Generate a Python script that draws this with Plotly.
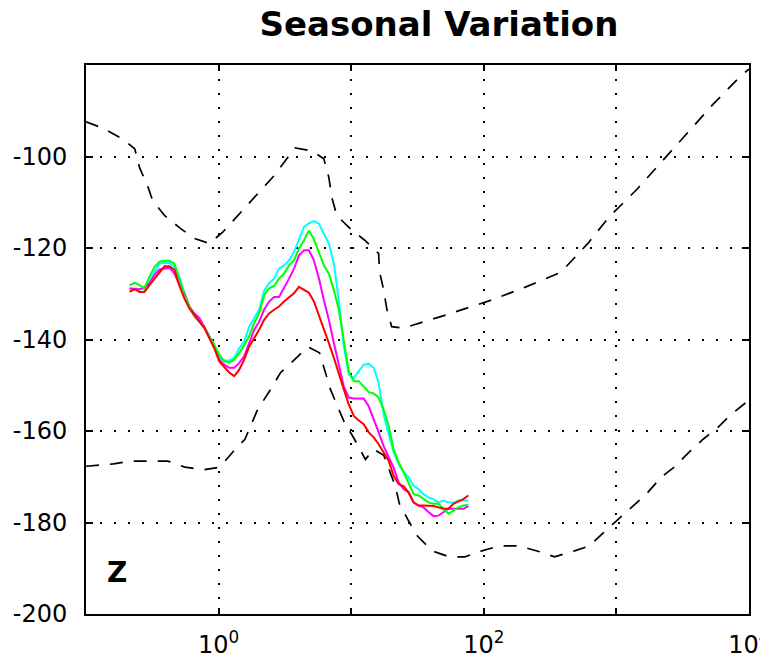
import plotly.graph_objects as go

# Period (s) shared by the four seasonal spectra
period = [0.213, 0.233, 0.254, 0.276, 0.301, 0.329, 0.358, 0.391, 0.426, 0.465,
          0.507, 0.552, 0.602, 0.657, 0.716, 0.781, 0.851, 0.928, 1.012, 1.104,
          1.203, 1.312, 1.431, 1.560, 1.701, 1.855, 2.022, 2.205, 2.404, 2.621,
          2.858, 3.116, 3.398, 3.705, 4.040, 4.405, 4.803, 5.236, 5.710, 6.225,
          6.788, 7.401, 8.070, 8.800, 9.594, 10.46, 11.41, 12.44, 13.56, 14.79,
          16.12, 17.58, 19.17, 20.90, 22.79, 24.85, 27.09, 29.54, 32.21, 35.12,
          38.30, 41.75, 45.52, 49.64, 54.12, 59.02, 64.35, 70.16, 76.50]

red_db = [-129.6, -129.0, -129.6, -129.6, -128.1, -126.7, -125.2, -124.0, -124.0, -124.8,
          -128.3, -131.0, -133.2, -134.8, -136.1, -137.5, -139.7, -141.9, -144.8, -145.9,
          -147.2, -148.0, -146.6, -144.4, -141.5, -139.7, -137.9, -135.7, -134.3, -133.5,
          -132.8, -131.7, -130.7, -129.9, -128.5, -129.2, -129.8, -131.7, -134.6, -137.9,
          -140.8, -144.0, -147.7, -150.9, -154.2, -156.7, -157.7, -158.5, -160.3, -161.4,
          -162.9, -164.7, -166.5, -169.8, -171.6, -172.1, -173.4, -175.6, -176.3, -176.3,
          -176.3, -176.4, -176.7, -177.0, -177.0, -175.9, -175.4, -174.9, -174.1]

magenta_db = [-128.8, -129.0, -129.0, -128.6, -127.7, -125.9, -124.7, -124.5, -124.3, -125.6,
              -128.1, -129.9, -132.8, -134.3, -135.3, -137.2, -139.3, -141.5, -144.4, -145.5,
              -146.2, -146.2, -145.1, -143.7, -140.8, -137.9, -136.1, -133.5, -131.7, -130.7,
              -130.7, -128.8, -126.7, -124.5, -121.6, -120.5, -120.5, -122.7, -126.6, -131.4,
              -135.7, -140.7, -145.9, -150.3, -152.7, -152.9, -152.9, -152.9, -154.6, -157.7,
              -160.3, -163.3, -165.8, -168.0, -171.2, -172.7, -173.4, -175.6, -176.3, -176.7,
              -177.7, -178.6, -178.5, -177.7, -177.0, -177.0, -177.0, -177.0, -176.4]

green_db = [-128.1, -127.6, -128.1, -128.8, -126.3, -124.1, -123.0, -122.8, -122.8, -123.4,
            -127.0, -130.3, -132.8, -135.0, -136.1, -137.5, -139.3, -141.2, -143.3, -144.8,
            -145.0, -144.4, -143.0, -141.2, -139.3, -136.4, -134.3, -130.3, -128.8, -128.3,
            -126.7, -125.6, -123.8, -122.7, -120.1, -118.3, -116.2, -118.1, -120.9, -123.8,
            -125.6, -129.2, -133.5, -140.1, -147.0, -149.1, -149.1, -150.3, -151.5, -151.8,
            -152.7, -155.3, -158.9, -164.0, -166.8, -169.0, -171.6, -173.8, -174.1, -174.9,
            -175.6, -175.9, -175.9, -177.0, -178.1, -177.4, -176.7, -176.3, -176.2]

cyan_db = [-129.0, -128.8, -129.0, -129.0, -127.4, -125.2, -123.4, -123.3, -123.3, -124.1,
           -126.3, -129.9, -132.8, -134.6, -135.7, -137.2, -139.3, -141.2, -144.0, -144.6,
           -144.6, -144.0, -141.9, -140.4, -137.2, -135.3, -133.5, -129.3, -127.7, -126.7,
           -124.5, -123.8, -122.7, -120.9, -118.3, -115.4, -114.6, -114.1, -114.7, -116.9,
           -119.0, -123.4, -131.4, -141.5, -147.7, -148.4, -147.0, -145.5, -145.3, -146.2,
           -149.5, -156.4, -160.7, -164.7, -167.2, -169.0, -170.1, -172.0, -172.7, -173.8,
           -174.5, -174.9, -175.6, -175.2, -175.6, -175.7, -175.2, -175.2, -175.2]

# Upper (high-noise) reference model
high_period = [0.1, 0.134, 0.189, 0.233, 0.254, 0.291, 0.318, 0.391, 0.515, 0.656,
               0.851, 1.07, 1.64, 2.62, 3.77, 5.06, 6.22, 6.79, 7.15, 7.80,
               9.60, 12.65, 16.1, 16.4, 17.6, 18.5, 20.2, 24.8, 52.3, 113.8,
               208, 382, 610, 877, 1449, 2233, 3500, 5395, 8610, 10000]
high_db = [-92.4, -93.8, -96.2, -98.3, -102.5, -106.4, -109.6, -112.9, -115.7, -117.9,
           -119.0, -116.6, -110.7, -104.2, -98.1, -98.8, -100.5, -104.6, -109.0, -112.9,
           -115.5, -118.3, -121.2, -125.3, -129.2, -133.1, -137.2, -137.5, -134.6, -131.4,
           -128.5, -125.3, -119.0, -113.3, -107.0, -100.9, -94.8, -88.5, -82.5, -80.9]

# Lower (low-noise) reference model
low_period = [0.1, 0.161, 0.216, 0.305, 0.416, 0.558, 0.762, 1.02, 1.28, 1.58,
              1.97, 2.47, 2.94, 3.74, 4.69, 5.77, 6.40, 6.98, 7.88, 8.89,
              10.6, 12.8, 14.8, 17.6, 21.5, 23.1, 27.4, 31.5, 40.8, 54.7,
              72.1, 96.8, 132, 184, 264, 342, 484, 628, 814, 1038,
              1344, 1682, 2181, 2731, 3537, 4511, 5844, 7326, 9480, 10000]
low_db = [-167.7, -167.2, -166.6, -166.6, -166.6, -167.9, -168.5, -167.9, -164.6, -161.8,
          -155.3, -150.9, -147.2, -144.4, -141.6, -142.9, -147.0, -150.9, -154.6, -158.1,
          -161.8, -166.2, -164.0, -165.3, -172.0, -175.9, -179.9, -182.9, -186.2, -187.5,
          -187.5, -186.2, -185.1, -185.1, -186.4, -187.5, -186.2, -185.1, -182.0, -179.2,
          -176.4, -173.8, -170.1, -167.9, -164.6, -161.8, -159.2, -156.4, -153.8, -152.5]

x_tickvals = [1, 100, 10000]
x_ticktext = ["10<sup>0</sup>", "10<sup>2</sup>", "10<sup>4</sup>"]
x_minor_vals = [10, 1000]
y_tickvals = [-200, -180, -160, -140, -120, -100]
y_ticktext = ["-200", "-180", "-160", "-140", "-120", "-100"]

fig = go.Figure()
dash_style = "13px,11px"
fig.add_trace(go.Scatter(x=high_period, y=high_db, mode="lines",
                         line=dict(color="black", width=1.7, dash=dash_style)))
fig.add_trace(go.Scatter(x=low_period, y=low_db, mode="lines",
                         line=dict(color="black", width=1.7, dash=dash_style)))
for vals, col in [(cyan_db, "#00FFFF"), (magenta_db, "#FF00FF"),
                  (green_db, "#00FF00"), (red_db, "#FF0000")]:
    fig.add_trace(go.Scatter(x=period, y=vals, mode="lines",
                             line=dict(color=col, width=2)))

fig.update_layout(
    width=760, height=655,
    margin=dict(l=78, r=19, t=57, b=49, autoexpand=False),
    paper_bgcolor="white", plot_bgcolor="white",
    showlegend=False,
    font=dict(family="DejaVu Sans", size=24, color="black"),
    title=dict(text="Seasonal Variation", x=0.567, xref="container",
               xanchor="center", y=0.9756, yref="container", yanchor="middle",
               automargin=False,
               font=dict(family="DejaVu Sans", size=34, color="black", weight="bold")),
)
fig.update_xaxes(type="log", range=[-1, 4.0005], tickvals=x_tickvals, ticktext=x_ticktext,
                 showgrid=True, gridcolor="black", gridwidth=2, griddash="2px,12px",
                 minor=dict(tickvals=x_minor_vals, showgrid=True, gridcolor="black",
                            gridwidth=2, griddash="2px,12px", ticks="inside",
                            ticklen=6, tickwidth=2, tickcolor="black"),
                 showline=True, linecolor="black", linewidth=2, mirror="ticks",
                 ticks="inside", ticklen=6, tickwidth=2, tickcolor="black",
                 ticklabelstandoff=8, ticklabeloverflow="allow",
                 zeroline=False, automargin=False,
                 tickfont=dict(family="DejaVu Sans", size=24, color="black"))
fig.update_yaxes(range=[-200, -80], tickvals=y_tickvals, ticktext=y_ticktext,
                 showgrid=True, gridcolor="black", gridwidth=2, griddash="2px,12px",
                 showline=True, linecolor="black", linewidth=2, mirror="ticks",
                 ticks="inside", ticklen=7, tickwidth=2, tickcolor="black",
                 ticklabelstandoff=12, zeroline=False, automargin=False,
                 tickfont=dict(family="DejaVu Sans", size=24, color="black"))
fig.add_annotation(text="Z", xref="paper", yref="paper", x=0.047, y=0.075,
                   xanchor="center", yanchor="middle", showarrow=False,
                   font=dict(family="DejaVu Sans", size=28, color="black", weight="bold"))

fig.write_html("out.html")
